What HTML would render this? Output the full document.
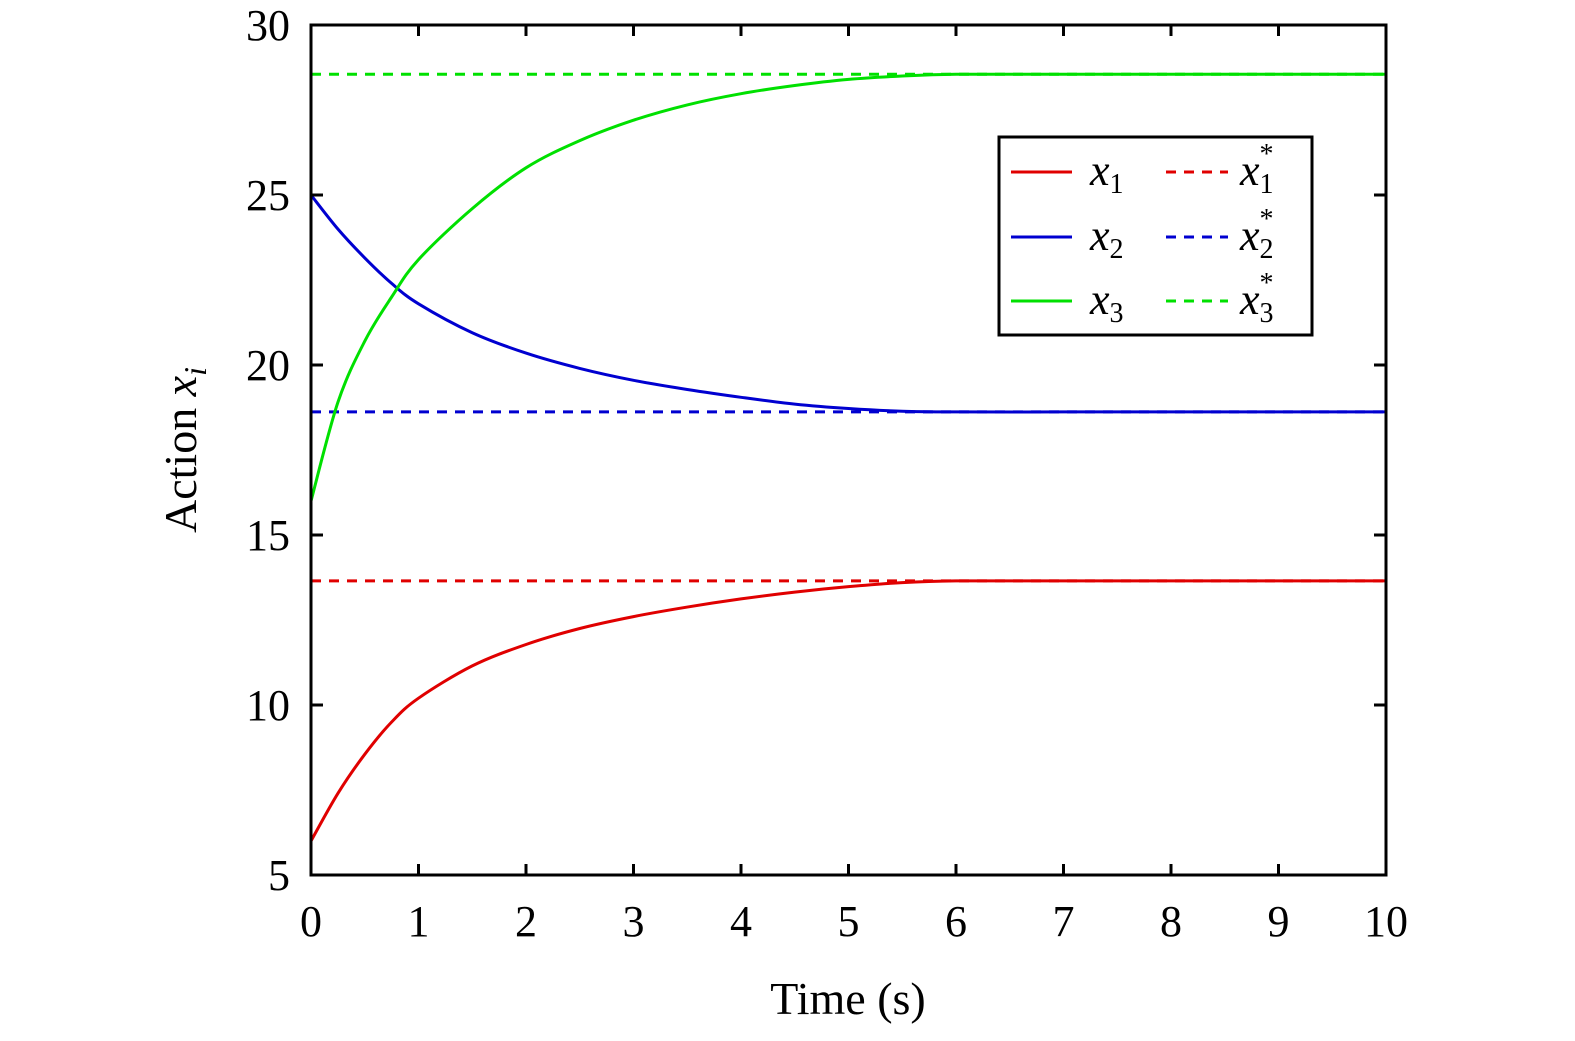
<!DOCTYPE html>
<html><head><meta charset="utf-8"><style>
html,body{margin:0;padding:0;background:#fff;}
svg text{font-family:"Liberation Serif",serif;fill:#000;}
</style></head><body>
<svg id="chart" width="1575" height="1036" viewBox="0 0 1575 1036" xmlns="http://www.w3.org/2000/svg">
<g id="plot"></g>
<rect x="311" y="25" width="1075" height="850" fill="none" stroke="#000" stroke-width="3"/>
<text x="848" y="1014" font-size="46" text-anchor="middle">Time (s)</text>
<text transform="translate(196,450) rotate(-90)" font-size="46" text-anchor="middle">Action <tspan font-style="italic">x</tspan><tspan font-style="italic" font-size="32" dy="10">i</tspan></text>
<g>
<rect x="999" y="137" width="313" height="198" fill="#fff" stroke="#000" stroke-width="3"/>
<line x1="1011" y1="172" x2="1072" y2="172" stroke="#e00000" stroke-width="3"/>
<line x1="1011" y1="237" x2="1072" y2="237" stroke="#0000d0" stroke-width="3"/>
<line x1="1011" y1="301" x2="1072" y2="301" stroke="#00e000" stroke-width="3"/>
<line x1="1166" y1="172" x2="1228" y2="172" stroke="#e00000" stroke-width="3" stroke-dasharray="10,8"/>
<line x1="1166" y1="237" x2="1228" y2="237" stroke="#0000d0" stroke-width="3" stroke-dasharray="10,8"/>
<line x1="1166" y1="301" x2="1228" y2="301" stroke="#00e000" stroke-width="3" stroke-dasharray="10,8"/>
<text x="1090" y="185" font-size="44"><tspan font-style="italic">x</tspan><tspan font-size="28" dy="8">1</tspan></text>
<text x="1090" y="250" font-size="44"><tspan font-style="italic">x</tspan><tspan font-size="28" dy="8">2</tspan></text>
<text x="1090" y="314" font-size="44"><tspan font-style="italic">x</tspan><tspan font-size="28" dy="8">3</tspan></text>
<text x="1240" y="185" font-size="44"><tspan font-style="italic">x</tspan><tspan font-size="28" dy="8">1</tspan><tspan font-size="28" dx="-14" dy="-30">*</tspan></text>
<text x="1240" y="250" font-size="44"><tspan font-style="italic">x</tspan><tspan font-size="28" dy="8">2</tspan><tspan font-size="28" dx="-14" dy="-30">*</tspan></text>
<text x="1240" y="314" font-size="44"><tspan font-style="italic">x</tspan><tspan font-size="28" dy="8">3</tspan><tspan font-size="28" dx="-14" dy="-30">*</tspan></text>
</g>
</svg>
<script>
const times = [0,0.25,0.5,0.75,1,1.5,2,2.5,3,3.5,4,4.5,5,5.5,6,7,8,9,10];
const x1Values = [6.0,7.4,8.55,9.5,10.2,11.15,11.78,12.25,12.6,12.88,13.12,13.32,13.48,13.6,13.65,13.65,13.65,13.65,13.65];
const x2Values = [25.0,24.0,23.15,22.4,21.8,20.95,20.35,19.9,19.55,19.28,19.05,18.85,18.72,18.64,18.62,18.62,18.62,18.62,18.62];
const x3Values = [16.0,18.9,20.7,22.0,23.1,24.6,25.8,26.6,27.2,27.65,27.98,28.22,28.4,28.5,28.55,28.55,28.55,28.55,28.55];
const targets = [13.65,18.62,28.55];
const xTicks = [0,1,2,3,4,5,6,7,8,9,10];
const yTicks = [5,10,15,20,25,30];
const X0=311,X1=1386,Y0=875,Y1=25;
const sx=t=>X0+(t-0)/(10-0)*(X1-X0);
const sy=v=>Y0-(v-5)/(30-5)*(Y0-Y1);
const NS='http://www.w3.org/2000/svg';
const g=document.getElementById('plot');
function mk(tag,attrs){const e=document.createElementNS(NS,tag);for(const k in attrs)e.setAttribute(k,attrs[k]);g.appendChild(e);return e;}
const colors=['#e00000','#0000d0','#00e000'];
targets.forEach((v,i)=>{
  const l=mk('line',{x1:sx(0),x2:sx(10),y1:sy(v),y2:sy(v),stroke:colors[i],'stroke-width':3,'stroke-dasharray':'10,8'});
  
  
});
[x1Values,x2Values,x3Values].forEach((vals,i)=>{
  const pts=times.map((t,j)=>[sx(t),sy(vals[j])]);
  let d='M'+pts[0][0]+','+pts[0][1];
  for(let j=0;j<pts.length-1;j++){
    const p0=pts[Math.max(j-1,0)],p1=pts[j],p2=pts[j+1],p3=pts[Math.min(j+2,pts.length-1)];
    const c1=[p1[0]+(p2[0]-p0[0])/6,p1[1]+(p2[1]-p0[1])/6];
    const c2=[p2[0]-(p3[0]-p1[0])/6,p2[1]-(p3[1]-p1[1])/6];
    d+=' C'+c1+' '+c2+' '+p2;
  }
  const p=mk('path',{d:d,fill:'none',stroke:colors[i],'stroke-width':3});
  
  
});
xTicks.forEach(t=>{
  const a=mk('line',{x1:sx(t),x2:sx(t),y1:Y0,y2:Y0-11,stroke:'#000','stroke-width':3});
  
  
  const b=mk('line',{x1:sx(t),x2:sx(t),y1:Y1,y2:Y1+11,stroke:'#000','stroke-width':3});
  
  
  const tx=mk('text',{x:sx(t),y:936,'font-size':44,'text-anchor':'middle'});
  tx.textContent=t;
  
  
});
yTicks.forEach(v=>{
  const a=mk('line',{x1:X0,x2:X0+12,y1:sy(v),y2:sy(v),stroke:'#000','stroke-width':3});
  
  
  const b=mk('line',{x1:X1,x2:X1-12,y1:sy(v),y2:sy(v),stroke:'#000','stroke-width':3});
  
  
  const tx=mk('text',{x:290,y:sy(v)+15,'font-size':44,'text-anchor':'end'});
  tx.textContent=v;
  
  
});
</script>
</body></html>
